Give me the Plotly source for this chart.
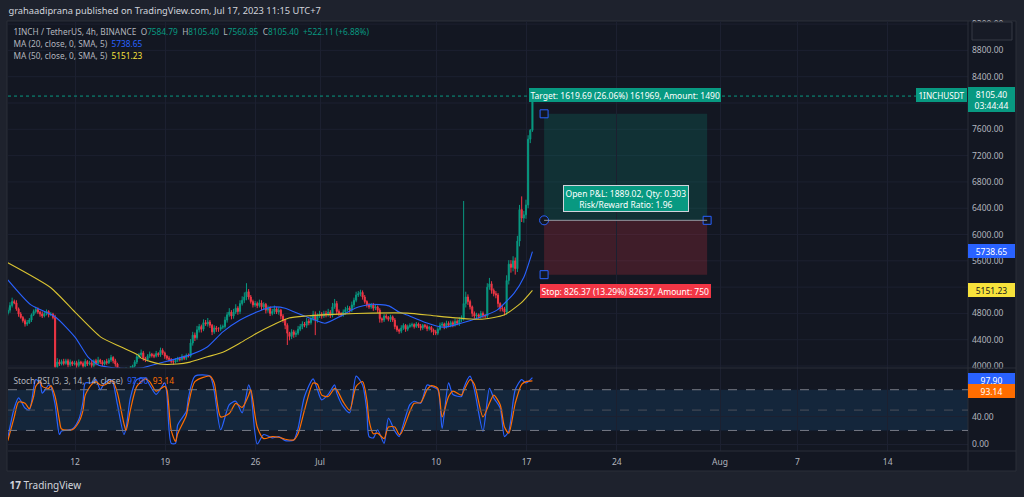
import pandas as pd
import plotly.graph_objects as go
from plotly.subplots import make_subplots

# 1INCH / TetherUS, 4h candles (UTC+7), Jun 6 19:00 -> Jul 17 11:00
first_open = 4800
closes = [
    4850, 4920,                                   # Jun 6
    4980, 4960, 4870, 4790, 4740, 4690,           # Jun 7
    4640, 4660, 4700, 4780, 4830, 4860,
    4820, 4790, 4760, 4800, 4830, 4780,
    4790, 4740, 3990, 4060, 4030, 4070,           # Jun 10 dump
    4040, 4080, 4020, 4060, 4030, 4050,
    4010, 4060, 4040, 4000, 4070, 4030,           # Jun 12
    4050, 4010, 4080, 4040, 4090, 4060,
    4030, 4070, 4050, 4090, 4130, 4080,
    4030, 3960, 3930, 3910, 3940, 3950,
    3940, 3970, 4000, 4060, 4140, 4170,
    4200, 4120, 4090, 4150, 4180, 4160,
    4150, 4190, 4170, 4240, 4200, 4150,
    4120, 4100, 4070, 4060, 4090, 4110,           # Jun 19
    4100, 4140, 4120, 4160, 4150, 4350,
    4470, 4430, 4550, 4600, 4560, 4660,
    4640, 4670, 4620, 4520, 4580, 4560,
    4560, 4590, 4600, 4700, 4780, 4820,
    4760, 4820, 4880, 4830, 4950, 5000,
    5050, 5130, 5050, 4980, 4930, 4950,
    4920, 4960, 4900, 4940, 4850, 4880,           # Jun 26
    4800, 4830, 4870, 4820, 4850, 4760,
    4700, 4620, 4500, 4450, 4520, 4480,
    4500, 4560, 4600, 4640, 4620, 4680,
    4660, 4720, 4780, 4700, 4760, 4790,
    4760, 4800, 4780, 4820, 4770, 4900,           # Jul 1
    4950, 4830, 4800, 4780, 4820, 4860,
    4880, 4850, 4930, 5000, 5080, 5100,
    5120, 5050, 4980, 4930, 4900, 4930,
    4880, 4900, 4850, 4720, 4700, 4760,
    4740, 4710, 4750, 4700, 4600, 4550,
    4530, 4580, 4620, 4560, 4600, 4620,
    4630, 4600, 4640, 4610, 4580, 4620,
    4600, 4570, 4590, 4550, 4520, 4500,
    4560, 4620, 4640, 4600, 4650, 4620,           # Jul 10
    4660, 4630, 4680, 4650, 4700, 4720,
    4950, 5050, 4980, 4900, 4800, 4760,
    4780, 4750, 4800, 4770, 4760, 5200,
    5250, 5150, 5100, 5080, 4950, 4880,
    4870, 4820, 5300, 5550, 5500, 5600,
    5480, 5900, 6380, 6250, 6300, 6450,
    7450, 7584.79, 8105.40,                       # Jul 17
]
wick_up = [
    40, 50,
    60, 30, 40, 20, 30, 20,
    30, 40, 30, 20, 30, 40,
    30, 20, 40, 30, 30, 20,
    30, 20, 40, 60, 40, 30,
    40, 30, 30, 40, 20, 30,
    30, 40, 20, 30, 40, 20,
    30, 40, 20, 30, 50, 20,
    30, 20, 40, 30, 40, 20,
    30, 20, 20, 30, 20, 30,
    20, 30, 20, 30, 40, 30,
    50, 30, 20, 30, 40, 20,
    30, 40, 20, 40, 30, 20,
    20, 30, 20, 20, 30, 30,
    30, 40, 20, 30, 30, 60,
    50, 40, 60, 40, 30, 50,
    40, 60, 30, 20, 40, 30,
    30, 40, 30, 50, 40, 60,
    30, 50, 60, 30, 50, 60,
    70, 130, 40, 30, 30, 40,
    30, 50, 40, 30, 20, 40,
    30, 40, 50, 30, 40, 20,
    30, 20, 30, 20, 40, 30,
    40, 50, 40, 40, 30, 50,
    40, 50, 60, 50, 40, 50,
    30, 40, 40, 50, 30, 60,
    70, 40, 30, 20, 40, 40,
    40, 30, 50, 40, 50, 40,
    40, 30, 30, 20, 30, 30,
    30, 40, 20, 30, 20, 30,
    30, 20, 30, 20, 30, 20,
    20, 40, 30, 20, 30, 30,
    30, 20, 30, 20, 30, 20,
    20, 30, 20, 20, 20, 30,
    30, 40, 30, 20, 40, 30,
    30, 30, 40, 30, 40, 50,
    1560, 80, 40, 30, 20, 30,
    30, 20, 40, 30, 20, 60,
    90, 40, 30, 40, 30, 20,
    40, 30, 80, 60, 60, 70,
    50, 80, 70, 200, 60, 80,
    60, 20, 0,
]
wick_dn = [
    30, 40,
    30, 20, 30, 40, 20, 30,
    40, 30, 20, 30, 20, 30,
    30, 40, 30, 20, 30, 40,
    20, 30, 60, 40, 30, 20,
    30, 20, 40, 30, 30, 20,
    40, 30, 30, 40, 20, 30,
    20, 40, 30, 30, 20, 30,
    30, 20, 30, 20, 30, 40,
    40, 30, 30, 20, 20, 30,
    30, 20, 30, 20, 30, 30,
    30, 40, 30, 20, 30, 30,
    30, 20, 30, 30, 30, 40,
    30, 30, 30, 40, 20, 30,
    30, 20, 30, 30, 20, 20,
    40, 50, 30, 40, 50, 30,
    30, 40, 40, 50, 30, 40,
    40, 30, 30, 30, 40, 30,
    50, 40, 30, 50, 40, 30,
    40, 50, 40, 30, 40, 30,
    40, 30, 50, 40, 50, 40,
    40, 30, 40, 30, 40, 50,
    40, 60, 180, 60, 40, 50,
    40, 30, 30, 40, 30, 40,
    40, 30, 30, 230, 40, 30,
    40, 30, 40, 30, 40, 30,
    30, 50, 40, 30, 30, 40,
    30, 40, 30, 40, 30, 30,
    40, 40, 30, 40, 30, 30,
    40, 30, 40, 60, 40, 30,
    30, 30, 40, 30, 40, 30,
    40, 30, 30, 40, 30, 20,
    30, 30, 20, 30, 40, 30,
    30, 40, 30, 40, 50, 30,
    30, 20, 30, 40, 30, 30,
    30, 40, 30, 30, 40, 30,
    30, 60, 50, 40, 50, 40,
    40, 30, 30, 40, 30, 40,
    40, 50, 40, 50, 60, 50,
    40, 50, 40, 60, 80, 60,
    90, 50, 80, 60, 70, 60,
    50, 60, 23.94,
]

# moving averages
ma20_t = ["2023-06-06 19:00", "2023-06-08 14:00", "2023-06-10 11:00", "2023-06-12 00:00",
          "2023-06-13 00:00", "2023-06-13 19:00", "2023-06-14 13:00", "2023-06-15 17:00",
          "2023-06-17 06:00", "2023-06-18 14:00", "2023-06-20 22:00", "2023-06-22 06:00",
          "2023-06-23 11:00", "2023-06-24 19:00", "2023-06-26 02:00", "2023-06-26 21:00",
          "2023-06-27 12:00", "2023-06-28 07:00", "2023-06-29 14:00", "2023-06-30 14:00",
          "2023-07-01 09:00", "2023-07-02 11:00", "2023-07-03 17:00", "2023-07-05 00:00",
          "2023-07-06 08:00", "2023-07-07 03:00", "2023-07-07 18:00", "2023-07-09 01:00",
          "2023-07-10 14:00", "2023-07-11 22:00", "2023-07-13 11:00", "2023-07-14 17:00",
          "2023-07-16 01:00", "2023-07-16 19:00", "2023-07-17 11:00"]
ma20_v = [5310, 4930, 4750, 4440, 4140, 4015, 3985, 3965, 3975, 4045, 4170, 4290,
          4520, 4700, 4820, 4880, 4900, 4880, 4775, 4700, 4650, 4745, 4880, 4940,
          4915, 4820, 4775, 4670, 4590, 4650, 4745, 4850, 5110, 5350, 5738.65]
ma50_t = ["2023-06-06 19:00", "2023-06-10 03:00", "2023-06-12 00:00", "2023-06-14 00:00",
          "2023-06-15 14:00", "2023-06-16 21:00", "2023-06-17 03:00", "2023-06-18 14:00",
          "2023-06-19 22:00", "2023-06-20 22:00", "2023-06-22 06:00", "2023-06-23 11:00",
          "2023-06-24 19:00", "2023-06-26 02:00", "2023-06-27 12:00", "2023-06-28 14:00",
          "2023-06-29 20:00", "2023-07-02 11:00", "2023-07-05 00:00", "2023-07-07 18:00",
          "2023-07-10 01:00", "2023-07-12 17:00", "2023-07-13 17:00", "2023-07-15 06:00",
          "2023-07-16 14:00", "2023-07-17 11:00"]
ma50_v = [5570, 5190, 4820, 4440, 4290, 4170, 4120, 4030, 4030, 4060, 4140, 4210,
          4350, 4500, 4640, 4730, 4760, 4790, 4805, 4805, 4760, 4715, 4715, 4775,
          4960, 5151.23]

# Stoch RSI (candle index, %K, %D)
rsi_idx = [0, 3, 5, 8, 10, 12, 13, 15, 16, 19, 20, 22, 24, 25, 30, 33, 35, 36, 39, 41,
           43, 45, 48, 49, 51, 54, 55, 57, 60, 64, 66, 69, 73, 74, 76, 78, 79, 83, 84, 87,
           94, 96, 99, 103, 106, 109, 112, 113, 116, 119, 123, 126, 129, 133, 135, 138,
           142, 144, 146, 149, 152, 153, 156, 159, 162, 165, 167, 168, 170, 172, 175, 177,
           180, 182, 183, 187, 189, 192, 195, 197, 200, 202, 205, 207, 211, 212, 215, 217,
           221, 224, 226, 229, 231, 233, 236, 239, 241, 244]
rsi_k = [9, 53, 68, 53, 50, 82, 95, 90, 75, 87, 85, 58, 14, 19, 22, 36, 63, 90, 90, 95,
         80, 90, 95, 90, 58, 14, 23, 68, 95, 97, 87, 73, 90, 73, 1, 1, 28, 48, 68, 100,
         100, 78, 21, 58, 63, 46, 87, 78, 0, 14, 9, 11, 5, 6, 23, 70, 96, 80, 65, 73,
         87, 75, 55, 46, 100, 87, 48, 11, 9, 21, 1, 38, 19, 11, 19, 58, 63, 60, 87, 85,
         80, 23, 90, 73, 70, 82, 100, 80, 19, 82, 68, 53, 11, 19, 80, 95, 90, 97.90]
rsi_d = [5, 40, 62, 60, 52, 70, 85, 92, 85, 82, 86, 70, 35, 22, 21, 32, 50, 72, 88, 92,
         87, 87, 93, 92, 75, 30, 20, 50, 85, 96, 92, 78, 85, 80, 20, 4, 15, 42, 58, 92,
         100, 90, 40, 45, 60, 54, 72, 80, 25, 8, 11, 10, 7, 6, 15, 50, 90, 88, 72, 70,
         82, 80, 62, 50, 85, 92, 65, 35, 15, 16, 8, 25, 25, 14, 16, 48, 60, 61, 80, 86,
         82, 40, 70, 78, 72, 78, 95, 88, 40, 60, 72, 58, 25, 16, 60, 88, 92, 93.14]

# long position tool
entry = 6216.0
target = entry + 1619.69
stop = entry - 826.37
pos_start = "2023-07-18 08:40"
pos_end = "2023-07-31 00:00"

date_ticks = ["2023-06-12", "2023-06-19", "2023-06-26", "2023-07-01", "2023-07-10",
              "2023-07-17", "2023-07-24", "2023-08-01", "2023-08-07", "2023-08-14"]
date_labels = ["12", "19", "26", "Jul", "10", "17", "24", "Aug", "7", "14"]
# 8000 and 5200 sit under the price labels, 80 under the RSI labels
price_ticks = [4000, 4400, 4800, 5600, 6000, 6400, 6800, 7200, 7600, 8400, 8800, 9200]
price_grid = list(range(4000, 9201, 400))
rsi_ticks = [0, 40]

times = pd.date_range("2023-06-06 19:00", periods=len(closes), freq="4h")
opens = [first_open] + closes[:-1]
highs = [max(o, c) + w for o, c, w in zip(opens, closes, wick_up)]
lows = [min(o, c) - w for o, c, w in zip(opens, closes, wick_dn)]

UP = "#089981"
DOWN = "#f23645"
BLUE = "#2962ff"
YELLOW = "#f7e23b"
ORANGE = "#ff6d00"
TXT = "#b2b5be"
GRID = "#1c2030"
FONT = "Noto Sans"

fig = make_subplots(rows=2, cols=1, shared_xaxes=True, vertical_spacing=0,
                    row_heights=[0.807, 0.193])

fig.add_trace(go.Candlestick(
    x=times, open=opens, high=highs, low=lows, close=closes,
    increasing=dict(line=dict(color=UP, width=1), fillcolor=UP),
    decreasing=dict(line=dict(color=DOWN, width=1), fillcolor=DOWN),
    hoverinfo="skip", showlegend=False), row=1, col=1)
fig.add_trace(go.Scatter(x=ma20_t, y=ma20_v, mode="lines",
                         line=dict(color=BLUE, width=1.1, shape="spline", smoothing=0.6),
                         showlegend=False), row=1, col=1)
fig.add_trace(go.Scatter(x=ma50_t, y=ma50_v, mode="lines",
                         line=dict(color="#d9c332", width=1.1, shape="spline", smoothing=0.6),
                         showlegend=False), row=1, col=1)

rsi_t = [times[i] for i in rsi_idx]
fig.add_trace(go.Scatter(x=rsi_t, y=rsi_k, mode="lines",
                         line=dict(color=BLUE, width=1.2, shape="spline", smoothing=0.7),
                         showlegend=False), row=2, col=1)
fig.add_trace(go.Scatter(x=rsi_t, y=rsi_d, mode="lines",
                         line=dict(color=ORANGE, width=1.2, shape="spline", smoothing=0.7),
                         showlegend=False), row=2, col=1)

# position tool handles
fig.add_trace(go.Scatter(x=[pos_start, pos_end, pos_start], y=[target, entry, stop],
                         mode="markers",
                         marker=dict(symbol="square", size=8, color="#131722",
                                     line=dict(color=BLUE, width=1)),
                         showlegend=False), row=1, col=1)
fig.add_trace(go.Scatter(x=[pos_start], y=[entry], mode="markers",
                         marker=dict(symbol="circle", size=9, color="#131722",
                                     line=dict(color=BLUE, width=1)),
                         showlegend=False), row=1, col=1)


def px(x):
    return (x - 8) / 960


def py(y):
    return (451 - y) / 430


shapes = [
    dict(type="rect", xref="paper", yref="paper", x0=px(7), x1=px(1016), y0=py(471), y1=1,
         fillcolor="#131722", line=dict(color="#2a2e39", width=1), layer="below"),
    dict(type="line", xref="paper", yref="paper", x0=0, x1=px(1016), y0=py(368), y1=py(368),
         line=dict(color="#2a2e39", width=1)),
    dict(type="line", xref="paper", yref="paper", x0=0, x1=px(1016), y0=0, y1=0,
         line=dict(color="#2a2e39", width=1)),
    dict(type="line", xref="paper", yref="paper", x0=1, x1=1, y0=py(471), y1=1,
         line=dict(color="#2a2e39", width=1)),
    # stoch rsi band
    dict(type="rect", xref="paper", yref="y2", x0=0, x1=1, y0=20, y1=80,
         fillcolor="rgba(33,150,243,0.12)", line=dict(width=0), layer="below"),
    dict(type="line", xref="paper", yref="y2", x0=0, x1=1, y0=80, y1=80,
         line=dict(color="#787b86", width=1, dash="dash")),
    dict(type="line", xref="paper", yref="y2", x0=0, x1=1, y0=50, y1=50,
         line=dict(color="#4a4e5a", width=1, dash="dash")),
    dict(type="line", xref="paper", yref="y2", x0=0, x1=1, y0=20, y1=20,
         line=dict(color="#787b86", width=1, dash="dash")),
    # last price line
    dict(type="line", xref="paper", yref="y", x0=0, x1=1, y0=closes[-1], y1=closes[-1],
         line=dict(color=UP, width=1, dash="dot")),
    # position zones
    dict(type="rect", xref="x", yref="y", x0=pos_start, x1=pos_end, y0=entry, y1=target,
         fillcolor="rgba(8,153,129,0.2)", line=dict(width=0), layer="below"),
    dict(type="rect", xref="x", yref="y", x0=pos_start, x1=pos_end, y0=stop, y1=entry,
         fillcolor="rgba(242,54,69,0.2)", line=dict(width=0), layer="below"),
    dict(type="line", xref="x", yref="y", x0=pos_start, x1=pos_end, y0=entry, y1=entry,
         line=dict(color="#9598a1", width=1)),
    # small box top right
    dict(type="rect", xref="paper", yref="paper", x0=px(972), x1=px(1012), y0=py(40), y1=py(22),
         fillcolor="#171b26", line=dict(color="#363a45", width=1)),
]
# horizontal grid at every 400, including levels whose labels are hidden
for g in price_grid:
    shapes.append(dict(type="line", xref="paper", yref="y", x0=0, x1=1, y0=g, y1=g,
                       line=dict(color=GRID, width=1), layer="below"))


def label(x, y, text, bg=None, color="#ffffff", size=8.5, anchor="center", border=None, w=None):
    return dict(xref="paper", yref="paper", x=px(x), y=py(y), text=text, showarrow=False,
                xanchor=anchor, yanchor="middle", bgcolor=bg, borderpad=1.5, width=w,
                bordercolor=border, borderwidth=1 if border else 0,
                font=dict(family=FONT, size=size, color=color))


def span(t, c):
    return f"<span style='color:{c}'>{t}</span>"


annotations = [
    label(7, 10, "grahaadiprana published on TradingView.com, Jul 17, 2023 11:15 UTC+7",
          color="#d1d4dc", size=9.3, anchor="left"),
    label(12, 31, "1INCH / TetherUS, 4h, BINANCE  O" + span("7584.79", UP) + "  H"
          + span("8105.40", UP) + "  L" + span("7560.85", UP) + "  C" + span("8105.40", UP)
          + "  " + span("+522.11 (+6.88%)", UP), color=TXT, size=8.3, anchor="left"),
    label(12, 43, "MA (20, close, 0, SMA, 5)  " + span("5738.65", BLUE), color=TXT,
          size=8.3, anchor="left"),
    label(12, 55, "MA (50, close, 0, SMA, 5)  " + span("5151.23", YELLOW), color=TXT,
          size=8.3, anchor="left"),
    label(12, 380, "Stoch RSI (3, 3, 14, 14, close)  " + span("97.90", BLUE) + "  "
          + span("93.14", ORANGE), color=TXT, size=8.3, anchor="left"),
    # axis price labels
    label(941, 95.5, "1INCHUSDT", bg=UP, w=48, size=8.2),
    label(992, 99.5, "8105.40<br>03:44:44", bg=UP, w=44),
    label(992, 251, "5738.65", bg=BLUE, w=44),
    label(992, 290, "5151.23", bg=YELLOW, color="#131722", w=44),
    label(992, 380, "97.90", bg=BLUE, w=44),
    label(992, 391, "93.14", bg=ORANGE, w=44),
    # position tool labels
    label(625, 95.5, "Target: 1619.69 (26.06%) 161969, Amount: 1490", bg=UP),
    label(625.5, 198, "Open P&L: 1889.02, Qty: 0.303<br>Risk/Reward Ratio: 1.96",
          bg=UP, border="#d1d4dc"),
    label(625, 291, "Stop: 826.37 (13.29%) 82637, Amount: 750", bg=DOWN),
    # footer
    label(8, 484, "<b>17</b> TradingView", color="#d1d4dc", size=10, anchor="left"),
]

axis_font = dict(family=FONT, size=8.5, color=TXT)
x_range = ["2023-06-06 19:20", "2023-08-20 05:20"]

fig.update_layout(
    width=1024, height=497,
    margin=dict(l=8, r=56, t=21, b=46),
    paper_bgcolor="#1e222d", plot_bgcolor="#131722",
    shapes=shapes, annotations=annotations,
    showlegend=False, hovermode=False,
    xaxis=dict(range=x_range, rangeslider=dict(visible=False), showticklabels=False,
               tickvals=date_ticks, showgrid=True, gridcolor=GRID, zeroline=False),
    xaxis2=dict(range=x_range, tickvals=date_ticks, ticktext=date_labels, tickfont=axis_font,
                showgrid=True, gridcolor=GRID, zeroline=False, ticks="", ticklabelstandoff=4),
    yaxis=dict(side="right", range=[3970, 9247], tickvals=price_ticks, tickformat=".2f",
               tickfont=axis_font, showgrid=False, zeroline=False, ticklabelstandoff=3),
    yaxis2=dict(side="right", range=[-10.3, 112], tickvals=rsi_ticks, tickformat=".2f",
                tickfont=axis_font, showgrid=True, gridcolor=GRID, zeroline=False,
                ticklabelstandoff=3),
)

fig.write_html("out.html", config={"displayModeBar": False},
               post_script="document.body.style.margin='0';")
